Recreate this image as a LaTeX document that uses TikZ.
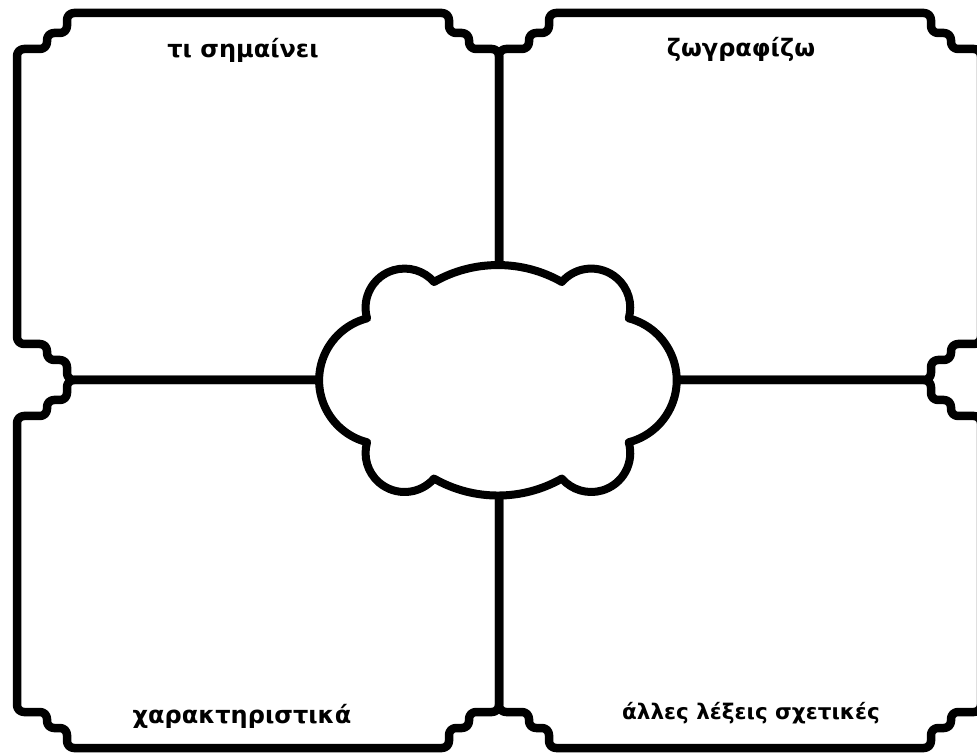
\documentclass[tikz,border=0pt]{standalone}
\usepackage{fontspec}
\setmainfont{DejaVu Sans}
\newcommand{\stepframe}[4]{%
  \draw[frameline](#1,#4-36)--(#1+30,#4-36)--(#1+30,#4-20)--(#1+50,#4-20)--(#1+50,#4)
    --(#3-50,#4)--(#3-50,#4-20)--(#3-30,#4-20)--(#3-30,#4-36)--(#3,#4-36)
    --(#3,#2+36)--(#3-30,#2+36)--(#3-30,#2+20)--(#3-50,#2+20)--(#3-50,#2)
    --(#1+50,#2)--(#1+50,#2+20)--(#1+30,#2+20)--(#1+30,#2+36)--(#1,#2+36)--cycle;}
\tikzset{
  frameline/.style={line width=8.5pt,rounded corners=7pt},
  cloudline/.style={line width=8pt,fill=white},
  title/.style={anchor=base,font=\fontsize{24}{28}\selectfont\bfseries}
}
\begin{document}
\begin{tikzpicture}[x=1pt,y=1pt,line join=round]
\useasboundingbox (0,0) rectangle (977,755);
% four quarters
\stepframe{17}{375}{499}{742}
\stepframe{499}{375}{981}{742}
\stepframe{17}{7}{499}{375}
\stepframe{499}{7}{981}{375}
% cloud in the middle
\draw[cloudline](434,473) arc[start angle=119.7,end angle=60.3,radius=129]
  arc[start angle=139,end angle=-16,radius=39]
  arc[start angle=75.5,end angle=-75.5,radius=64]
  arc[start angle=16,end angle=-139,radius=39]
  arc[start angle=-60.3,end angle=-119.7,radius=129]
  arc[start angle=-41,end angle=-196,radius=39]
  arc[start angle=-104.5,end angle=-255.5,radius=64]
  arc[start angle=196,end angle=41,radius=39]--cycle;

    \node[title] (meaning) at (243,697) {τι σημαίνει};
    \node[title] (drawing) at (741,698) {ζωγραφίζω};
    \node[title] (features) at (242,32) {χαρακτηριστικά};
    \node[title,font=\fontsize{21.5}{26}\selectfont\bfseries] (related) at (751,35) {άλλες λέξεις σχετικές};
\end{tikzpicture}
\end{document}
